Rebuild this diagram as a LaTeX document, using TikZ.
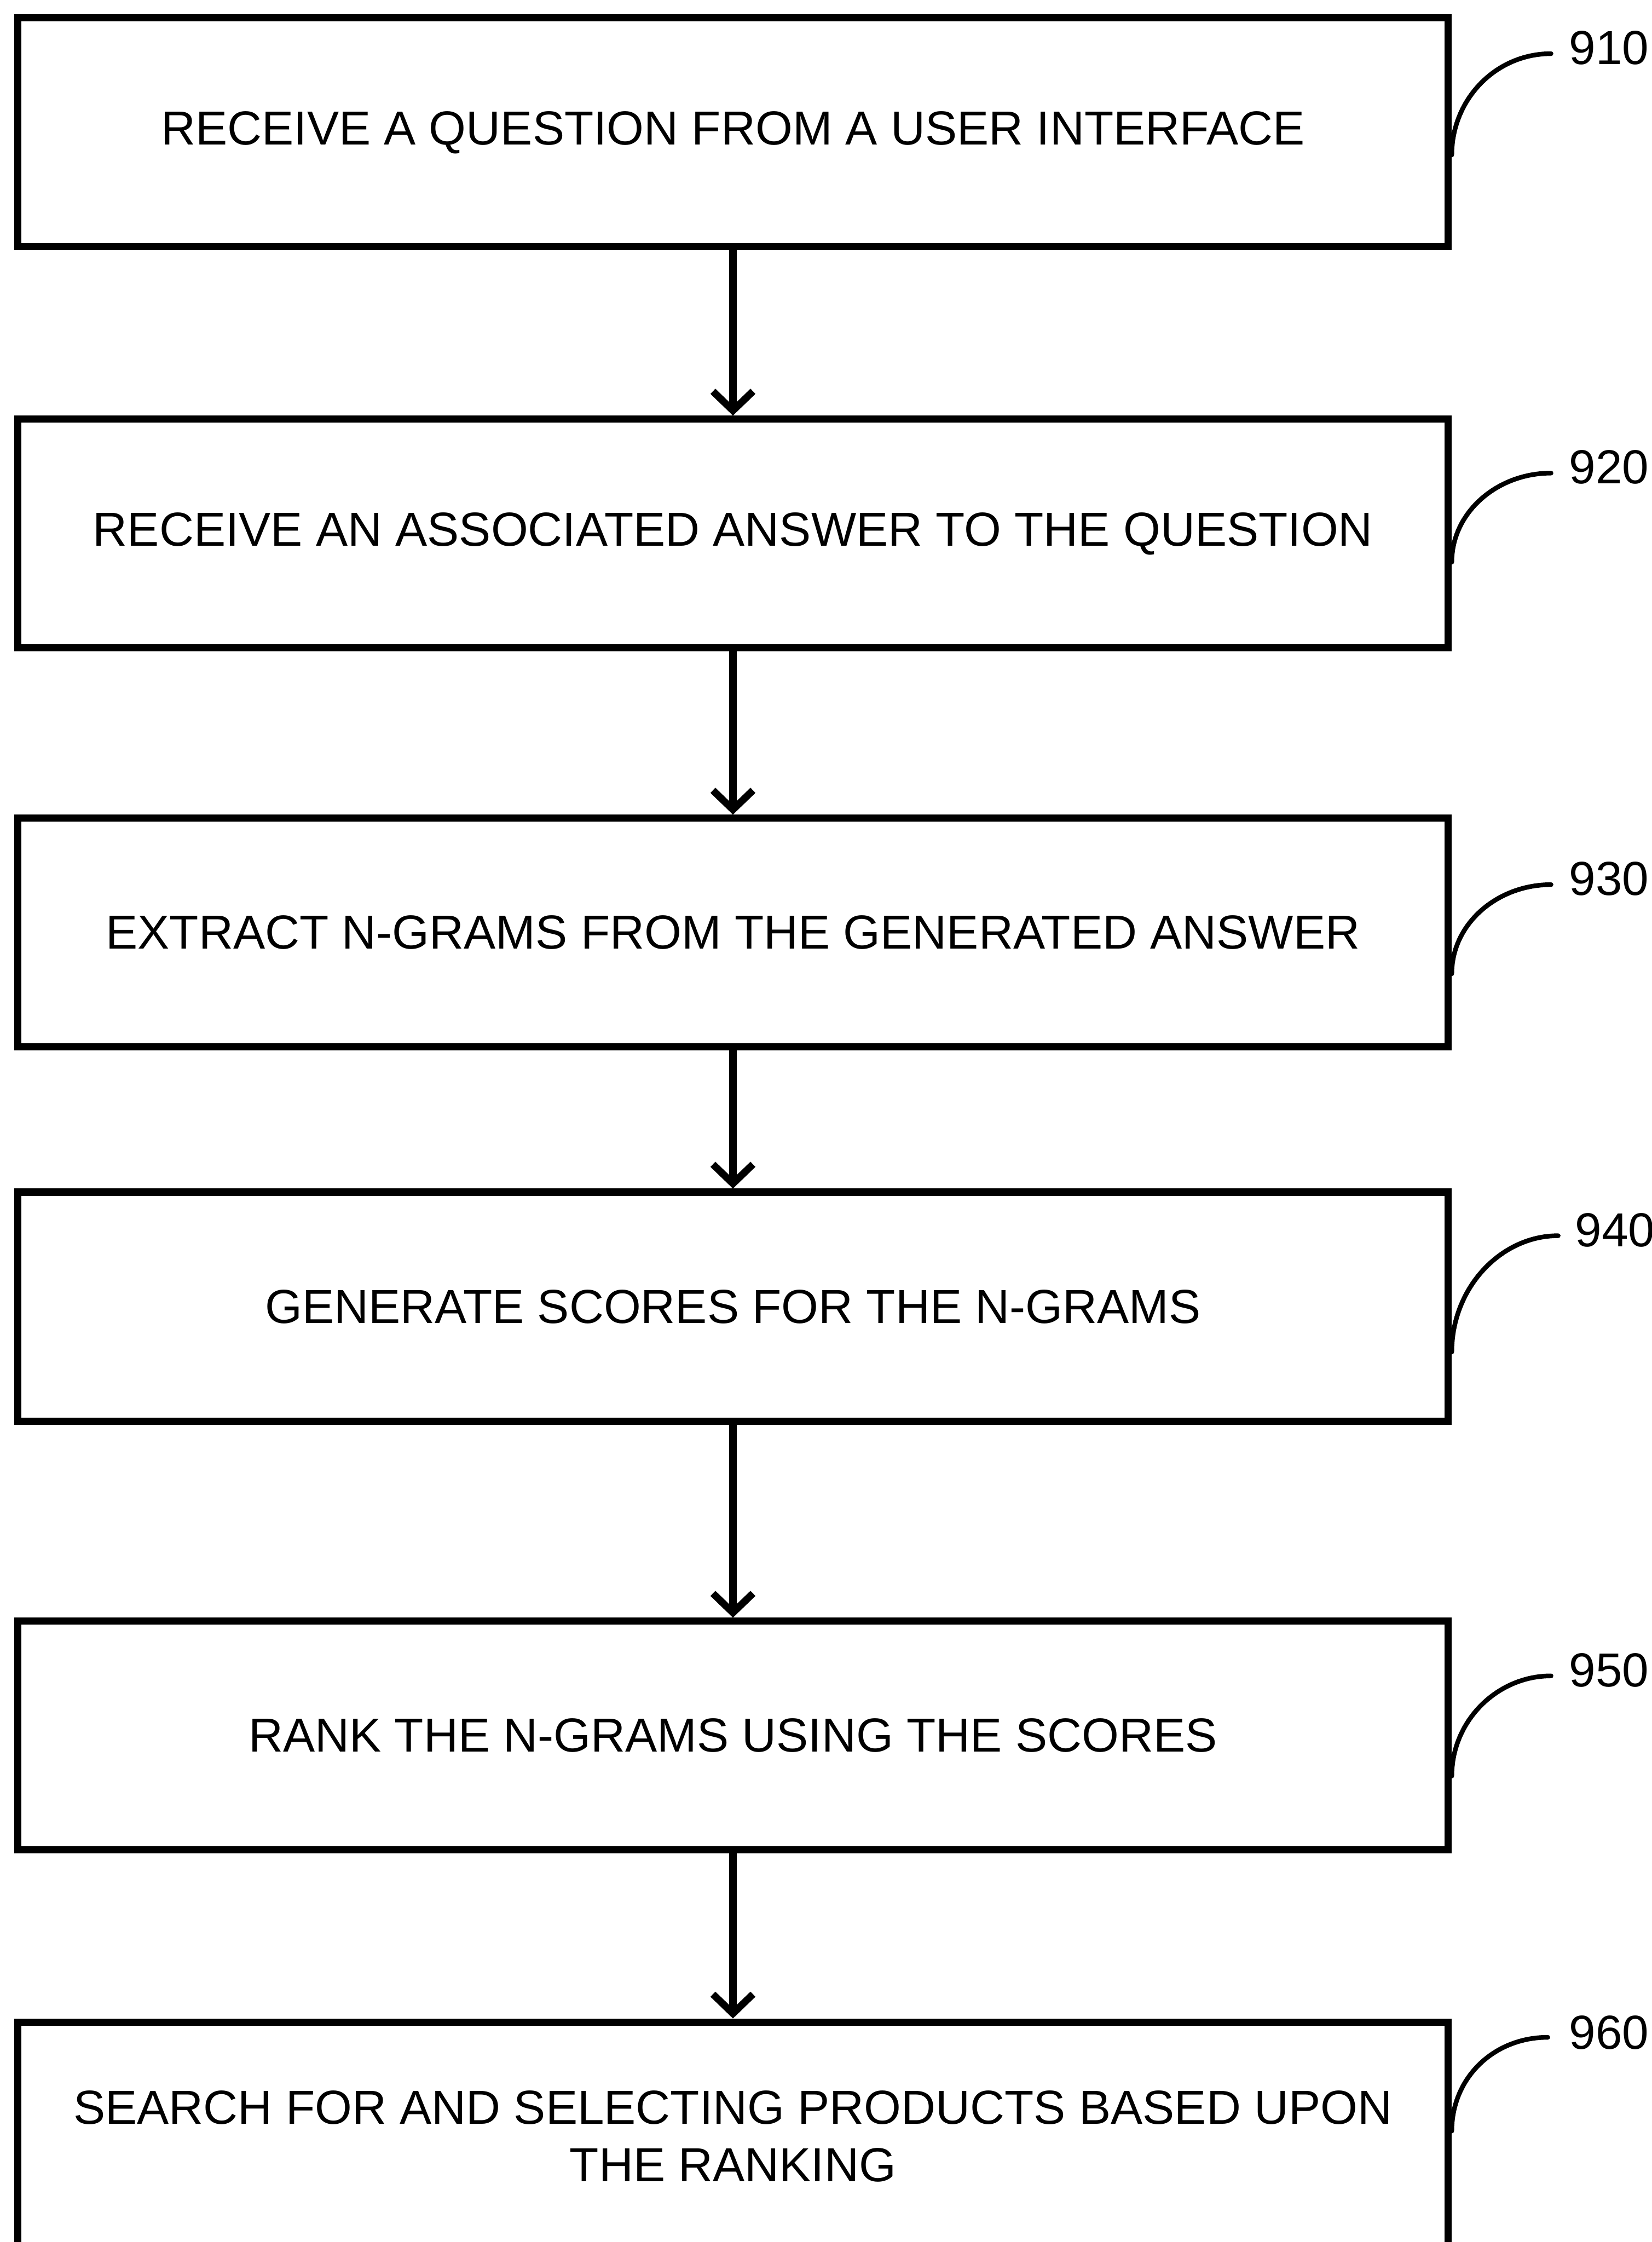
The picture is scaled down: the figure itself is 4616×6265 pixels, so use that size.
\documentclass[tikz,border=0pt]{standalone}
\usepackage{fontspec}
\setmainfont{Liberation Sans}
\usetikzlibrary{positioning,arrows.meta,calc}

\begin{document}
\begin{tikzpicture}[x=0.005cm, y=-0.005cm,
    stepbox/.style={draw, line width=0.1cm, minimum width=20.005cm, minimum height=3.2cm,
      inner sep=0pt, align=center, font=\fontsize{19}{22.8}\selectfont},
    flow/.style={line width=0.1cm, -{Straight Barb[length=0.27cm, width=0.56cm]}},
    refnum/.style={anchor=west, inner sep=0pt, font=\fontsize{19}{22.8}\selectfont},
    leader/.style={line width=0.065cm, line cap=round}]
  \clip (0,0) rectangle (4616,6265);

  % process steps
  \node[stepbox] (question) at (2048,370)  {RECEIVE A QUESTION FROM A USER INTERFACE};
  \node[stepbox] (answer)   at (2048,1491) {RECEIVE AN ASSOCIATED ANSWER TO THE QUESTION};
  \node[stepbox] (extract)  at (2048,2606) {EXTRACT N-GRAMS FROM THE GENERATED ANSWER};
  \node[stepbox] (score)    at (2048,3651) {GENERATE SCORES FOR THE N-GRAMS};
  \node[stepbox] (rank)     at (2048,4850) {RANK THE N-GRAMS USING THE SCORES};
  \node[stepbox] (search)   at (2048,5970) {SEARCH FOR AND SELECTING PRODUCTS BASED UPON\\THE RANKING};

  % reference numerals
  \node[refnum] (r910) at (4383,134)  {910};
  \node[refnum] (r920) at (4383,1306) {920};
  \node[refnum] (r930) at (4383,2456) {930};
  \node[refnum] (r940) at (4400,3437) {940};
  \node[refnum] (r950) at (4383,4667) {950};
  \node[refnum] (r960) at (4383,5680) {960};

  \draw[flow] (question) -- (answer);
  \draw[flow] (answer) -- (extract);
  \draw[flow] (extract) -- (score);
  \draw[flow] (score) -- (rank);
  \draw[flow] (rank) -- (search);

  % leader curves
  \draw[leader] ($(question.east)+(0,63)$) .. controls +(0,-155) and +(-155,0) .. ($(r910.west)+(-49,16)$);
  \draw[leader] ($(answer.east)+(0,80)$) .. controls +(0,-140) and +(-150,0) .. ($(r920.west)+(-49,16)$);
  \draw[leader] ($(extract.east)+(0,115)$) .. controls +(0,-140) and +(-150,0) .. ($(r930.west)+(-49,16)$);
  \draw[leader] ($(score.east)+(0,127)$) .. controls +(0,-180) and +(-160,0) .. ($(r940.west)+(-46,16)$);
  \draw[leader] ($(rank.east)+(0,113)$) .. controls +(0,-155) and +(-150,0) .. ($(r950.west)+(-49,16)$);
  \draw[leader] ($(search.east)+(0,-15)$) .. controls +(0,-150) and +(-150,0) .. ($(r960.west)+(-58,13)$);
\end{tikzpicture}
\end{document}
